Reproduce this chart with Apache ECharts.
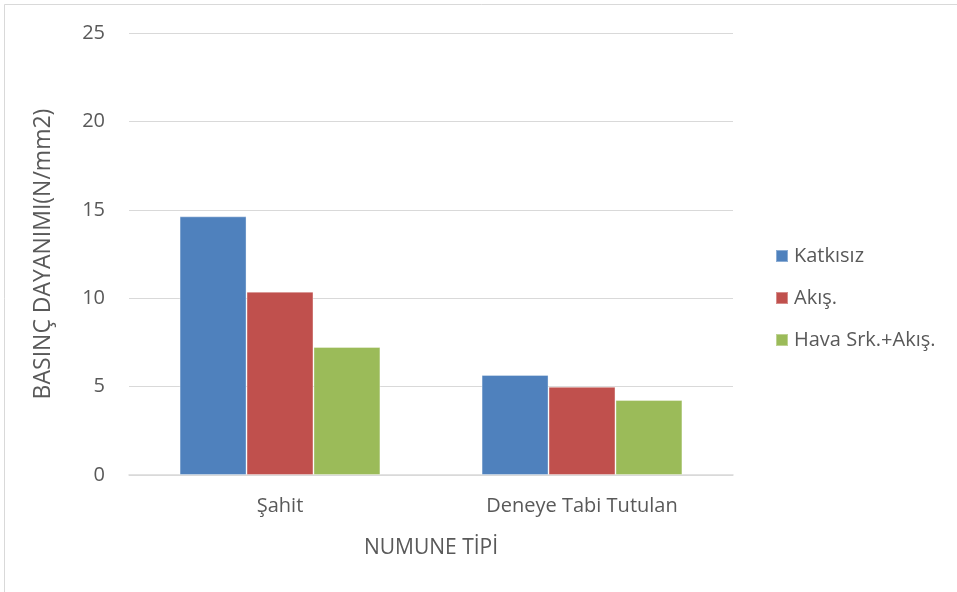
<!DOCTYPE html>
<html>
<head>
<meta charset="utf-8">
<script src="https://cdn.jsdelivr.net/npm/echarts@6/dist/echarts.min.js"></script>
<style>
  html, body { margin: 0; padding: 0; background: #fff; }
  #chart { width: 957px; height: 592px; }
</style>
</head>
<body>
<div id="chart"></div>
<script>
// Compressive strength by specimen type
const categories = ['Şahit', 'Deneye Tabi Tutulan'];
const seriesNames = ['Katkısız', 'Akış.', 'Hava Srk.+Akış.'];
const katkisiz = [14.63, 5.66];
const akis = [10.37, 4.99];
const havaAkis = [7.24, 4.24];
const yTicks = [0, 5, 10, 15, 20, 25];

const colors = ['#4f81bd', '#c0504d', '#9bbb59'];
const font = '"Open Sans", "Noto Sans", sans-serif';
const txt = '#595959';

const chart = echarts.init(document.getElementById('chart'), null, { renderer: 'canvas' });

const values = [katkisiz, akis, havaAkis];

chart.setOption({
  animation: false,
  backgroundColor: '#fff',
  textStyle: { fontFamily: font },
  graphic: [{
    type: 'rect',
    shape: { x: 4.5, y: 4.5, width: 1000, height: 1000 },
    style: { fill: 'none', stroke: '#d9d9d9', lineWidth: 1 },
    silent: true
  }],
  grid: { left: 129, right: 224, top: 33, bottom: 117 },
  legend: {
    orient: 'vertical',
    left: 770,
    top: 241,
    itemWidth: 12,
    itemHeight: 12,
    itemGap: 22,
    icon: 'rect',
    textStyle: { color: txt, fontSize: 20, fontFamily: font, padding: [0, 0, 0, 1] },
    data: seriesNames
  },
  xAxis: {
    type: 'category',
    data: categories,
    name: 'NUMUNE TİPİ',
    nameLocation: 'middle',
    nameGap: 63,
    nameTextStyle: { color: txt, fontSize: 21, fontFamily: font },
    axisLine: { lineStyle: { color: '#d9d9d9', width: 1.5 } },
    axisTick: { show: false },
    axisLabel: { color: txt, fontSize: 20, margin: 21, fontFamily: font }
  },
  yAxis: {
    type: 'value',
    min: yTicks[0],
    max: yTicks[yTicks.length - 1],
    interval: 5,
    name: 'BASINÇ DAYANIMI(N/mm2)',
    nameLocation: 'middle',
    nameGap: 74,
    nameRotate: 90,
    nameTextStyle: { color: txt, fontSize: 23, fontFamily: font },
    axisLine: { show: false },
    axisTick: { show: false },
    axisLabel: { color: txt, fontSize: 20, margin: 24, fontFamily: font },
    splitLine: { lineStyle: { color: '#d9d9d9', width: 1.2 } }
  },
  series: seriesNames.map((name, i) => ({
    name,
    type: 'bar',
    data: values[i],
    barGap: '0%',
    barCategoryGap: '33.5%',
    itemStyle: { color: colors[i], borderColor: 'rgba(255,255,255,0.35)', borderWidth: 1 }
  }))
});
</script>
</body>
</html>
